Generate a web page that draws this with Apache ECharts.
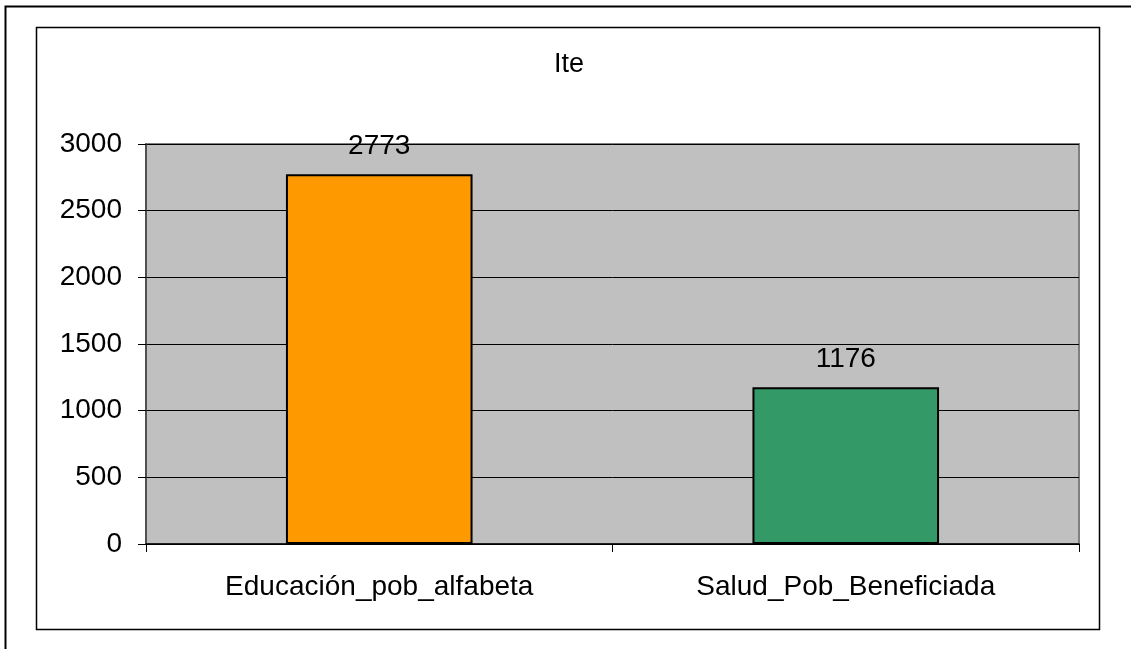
<!DOCTYPE html>
<html>
<head>
<meta charset="utf-8">
<script src="https://cdn.jsdelivr.net/npm/echarts@6/dist/echarts.min.js"></script>
<style>
html,body{margin:0;padding:0;background:#fff;}
#c{width:1131px;height:649px;}
</style>
</head>
<body>
<div id="c"></div>
<script>
const titleText = 'Ite';
const categories = ['Educación_pob_alfabeta', 'Salud_Pob_Beneficiada'];
const values = [2773, 1176];
const barColors = ['#FF9900', '#339966'];
const yTicks = [0, 500, 1000, 1500, 2000, 2500, 3000];

const FONT = 'Liberation Sans, Arial, sans-serif';
const chart = echarts.init(document.getElementById('c'), null, {renderer: 'canvas'});
chart.setOption({
  backgroundColor: '#ffffff',
  animation: false,
  title: {
    text: titleText,
    left: 549, top: 46,
    textStyle: {fontFamily: FONT, fontSize: 27, fontWeight: 'normal', color: '#000'}
  },
  graphic: [
    {type: 'rect', shape: {x: 5.5, y: 6.5, width: 1140, height: 660}, style: {fill: 'none', stroke: '#000', lineWidth: 2}, silent: true},
    {type: 'rect', shape: {x: 36.5, y: 27.5, width: 1063, height: 602}, style: {fill: 'none', stroke: '#000', lineWidth: 1.5}, silent: true}
  ],
  grid: {
    left: 146, top: 144, width: 933, height: 400,
    show: true, backgroundColor: '#C0C0C0', borderColor: '#808080', borderWidth: 2,
    containLabel: false
  },
  xAxis: {
    type: 'category',
    data: categories,
    axisLine: {show: true, lineStyle: {color: '#000', width: 1.5}},
    axisTick: {show: true, length: 8, alignWithLabel: false, lineStyle: {color: '#000'}},
    axisLabel: {fontFamily: FONT, fontSize: 28, color: '#000', margin: 29},
    splitLine: {show: false}
  },
  yAxis: {
    type: 'value',
    min: 0, max: 3000, interval: 500,
    axisLine: {show: true, lineStyle: {color: '#404040', width: 1.5}},
    axisTick: {show: true, length: 8, lineStyle: {color: '#000'}},
    axisLabel: {fontFamily: FONT, fontSize: 28, color: '#000', margin: 24,
      formatter: v => yTicks.includes(v) ? String(v) : ''},
    splitLine: {show: true, lineStyle: {color: '#000', width: 1}}
  },
  series: [{
    type: 'bar',
    data: values.map((v, i) => ({value: v, itemStyle: {color: barColors[i]}})),
    barWidth: '40%',
    itemStyle: {borderColor: '#000', borderWidth: 2},
    label: {show: true, position: 'top', distance: 14, fontFamily: FONT, fontSize: 28, color: '#000'}
  }]
});
</script>
</body>
</html>
